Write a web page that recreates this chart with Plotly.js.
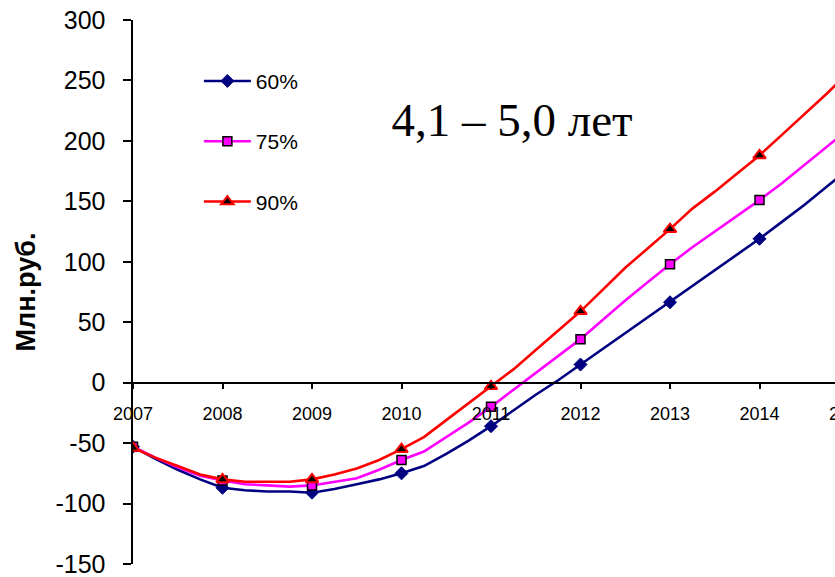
<!DOCTYPE html>
<html>
<head>
<meta charset="utf-8">
<script src="https://cdn.plot.ly/plotly-3.0.1.min.js"></script>
<style>
html, body { margin: 0; padding: 0; overflow: hidden; background: #ffffff; }
#chart { width: 850px; height: 577px; }
</style>
</head>
<body>
<div id="chart"></div>
<script>
// ---- data ----
const seriesNames = ['60%', '75%', '90%'];
const periods = [2007, 2007.25, 2007.5, 2007.75, 2008, 2008.25, 2008.5, 2008.75,
                 2009, 2009.25, 2009.5, 2009.75, 2010, 2010.25, 2010.5, 2010.75,
                 2011, 2011.25, 2011.5, 2011.75, 2012, 2012.25, 2012.5, 2012.75,
                 2013, 2013.25, 2013.5, 2013.75, 2014, 2014.25, 2014.5, 2014.75, 2015];
const values60 = [-53, -63, -72, -80, -87, -89, -90, -90,
                  -91, -88, -84, -80, -75, -69, -59, -48,
                  -36, -23, -10, 2, 15, 28, 41, 54,
                  66.5, 80, 93, 106, 119, 133, 147, 162, 177];
const values75 = [-53, -62, -70, -77, -81, -84, -85, -86,
                  -85, -82, -79, -72, -64, -57, -45, -33,
                  -20, -6, 8, 22, 36, 52, 68, 83,
                  98, 112, 125, 138, 151, 165, 180, 195, 210];
const values90 = [-54, -62, -69, -76, -80, -82, -82, -82,
                  -80, -76, -71, -64, -55, -45, -31, -17,
                  -3, 11, 27, 43, 59, 77, 95, 111,
                  127, 144, 158, 173, 188, 205, 222, 239, 257];
const yearTicks = [2007, 2008, 2009, 2010, 2011, 2012, 2013, 2014, 2015];
const yTicks = [-150, -100, -50, 0, 50, 100, 150, 200, 250, 300];
const chartTitle = '4,1 – 5,0 лет';
const yTitle = 'Млн.руб.';

// ---- styles ----
const styles = [
  { line: '#000080', symbol: 'diamond',     fill: '#000080', edge: '#000080', size: 10, edgeWidth: 1 },
  { line: '#FF00FF', symbol: 'square',      fill: '#FF00FF', edge: '#000000', size: 9,  edgeWidth: 1.5 },
  { line: '#FF0000', symbol: 'triangle-up', fill: '#000000', edge: '#FF0000', size: 11, edgeWidth: 2 }
];
const allValues = [values60, values75, values90];
const clear = 'rgba(0,0,0,0)';

const traces = allValues.map((vals, i) => {
  const s = styles[i];
  return {
    type: 'scatter',
    mode: 'lines+markers',
    name: seriesNames[i],
    legendgroup: seriesNames[i],
    x: periods,
    y: vals,
    line: { color: s.line, width: 2.6 },
    marker: {
      symbol: s.symbol,
      size: s.size,
      color: periods.map(p => Number.isInteger(p) ? s.fill : clear),
      line: { color: periods.map(p => Number.isInteger(p) ? s.edge : clear), width: s.edgeWidth }
    },
    hoverinfo: 'x+y+name',
    cliponaxis: true
  };
});

const baseFont = 'Liberation Sans, Arial, sans-serif';

const layout = {
  width: 850,
  height: 577,
  margin: { l: 133, r: 1, t: 20, b: 13, pad: 0 },
  paper_bgcolor: '#ffffff',
  plot_bgcolor: '#ffffff',
  showlegend: true,
  title: {
    text: chartTitle,
    font: { family: 'Liberation Serif, Times New Roman, serif', size: 47, color: '#000' },
    xref: 'container', yref: 'container',
    x: 512 / 850, xanchor: 'center',
    y: 1 - 120 / 577, yanchor: 'middle'
  },
  xaxis: {
    range: [2007, 2015],
    tickvals: yearTicks,
    ticktext: yearTicks.map(String),
    ticklabeloverflow: 'allow',
    anchor: 'free',
    position: 1 / 3,
    showline: true, linecolor: '#000', linewidth: 2.5,
    ticks: 'outside', ticklen: 5, tickwidth: 2, tickcolor: '#000',
    tickfont: { family: baseFont, size: 18, color: '#000' },
    ticklabelstandoff: 9,
    showgrid: false, zeroline: false, fixedrange: true
  },
  yaxis: {
    range: [-150, 300],
    tickvals: yTicks,
    ticktext: yTicks.map(String),
    ticklabeloverflow: 'allow',
    showline: true, linecolor: '#000', linewidth: 2.5,
    ticks: 'outside', ticklen: 8, tickwidth: 2, tickcolor: '#000',
    tickfont: { family: baseFont, size: 25, color: '#000' },
    ticklabelstandoff: 12,
    showgrid: false, zeroline: false, fixedrange: true,
    title: {
      text: yTitle,
      font: { family: baseFont, size: 27, color: '#000', weight: 'bold' },
      standoff: 12
    }
  },
  legend: {
    x: 0.092, y: 0.925, xanchor: 'left', yanchor: 'top',
    font: { family: baseFont, size: 21, color: '#000' },
    bgcolor: 'rgba(0,0,0,0)',
    itemwidth: 47,
    traceorder: 'grouped',
    tracegroupgap: 30
  }
};

Plotly.newPlot('chart', traces, layout, { displayModeBar: false, staticPlot: true });
</script>
</body>
</html>
